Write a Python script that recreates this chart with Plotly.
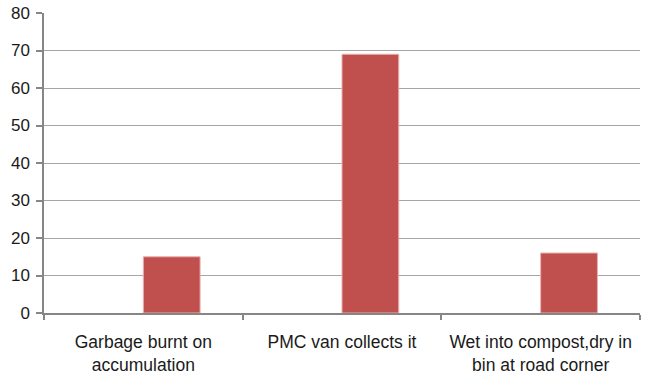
import plotly.graph_objects as go

# Disposal practices and share of respondents (%)
categories = [
    "Garbage burnt on<br>accumulation",
    "PMC van collects it",
    "Wet into compost,dry in<br>bin at road corner",
]
values = [15, 69, 16]
y_ticks = [0, 10, 20, 30, 40, 50, 60, 70, 80]

BAR_COLOR = "#C0504D"
GRID_COLOR = "#A6A6A6"
AXIS_COLOR = "#868686"
FONT = "Liberation Sans, Arial, sans-serif"
TEXT_COLOR = "#1a1a1a"

fig = go.Figure(
    go.Bar(
        x=categories,
        y=values,
        width=1 / 3.5,
        offset=0,
        marker=dict(color=BAR_COLOR, line=dict(color="#E8B0AF", width=1)),
    )
)

fig.update_layout(
    width=646,
    height=378,
    margin=dict(l=44, r=6, t=13, b=65),
    paper_bgcolor="white",
    plot_bgcolor="white",
    showlegend=False,
    font=dict(family=FONT, size=17, color=TEXT_COLOR),
)

fig.update_xaxes(
    type="category",
    automargin=False,
    tickson="boundaries",
    ticks="outside",
    ticklen=5,
    tickcolor=AXIS_COLOR,
    tickwidth=1.5,
    showgrid=False,
    showline=True,
    linecolor=AXIS_COLOR,
    linewidth=1.5,
    ticklabelstandoff=12,
    tickfont=dict(family=FONT, size=17.5, color=TEXT_COLOR),
)

fig.update_yaxes(
    range=[0, 80],
    automargin=False,
    tickvals=y_ticks,
    ticks="outside",
    ticklen=6,
    tickcolor=AXIS_COLOR,
    tickwidth=1.5,
    showgrid=True,
    gridcolor=GRID_COLOR,
    gridwidth=1,
    zeroline=False,
    showline=True,
    linecolor=AXIS_COLOR,
    linewidth=1.5,
    ticklabelstandoff=3,
    tickfont=dict(family=FONT, size=17, color=TEXT_COLOR),
)

fig.write_html("out.html")
